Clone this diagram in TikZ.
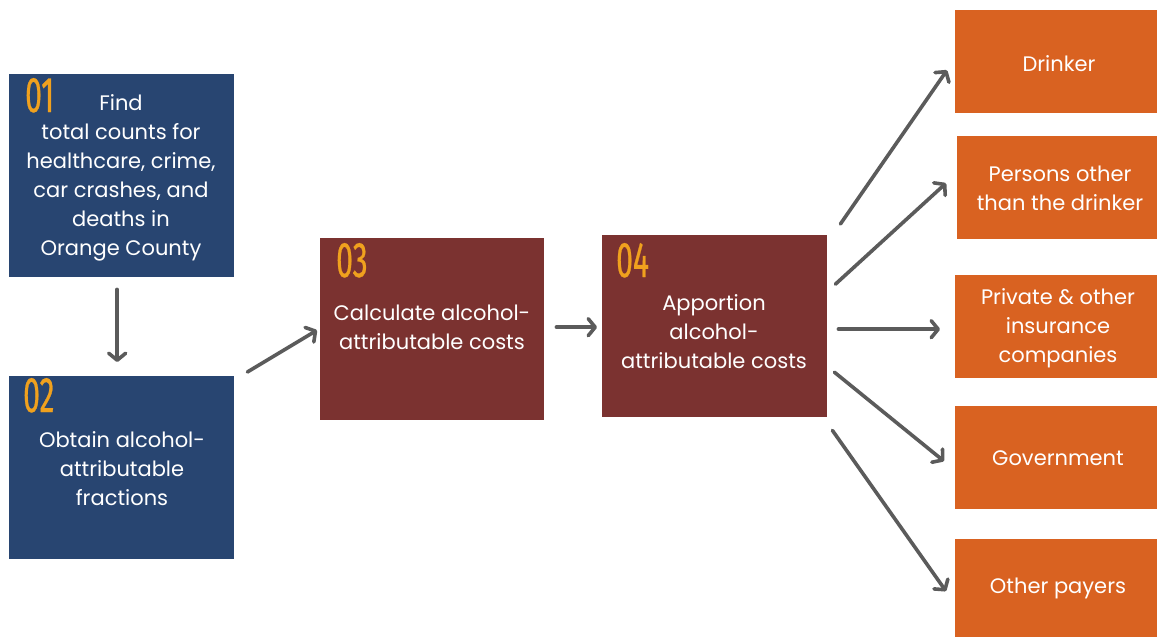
\documentclass[tikz,border=0pt]{standalone}
\usepackage{fontspec}
\setmainfont{Poppins}
\newfontfamily\numfont[FakeStretch=0.6,FakeBold=0.5]{Fira Sans}
\usetikzlibrary{arrows.meta}
\definecolor{boxblue}{HTML}{284571}
\definecolor{boxred}{HTML}{7B3230}
\definecolor{boxorange}{HTML}{D96221}
\definecolor{numgold}{HTML}{F0A11E}
\definecolor{arrowgray}{HTML}{5B5B5B}
\tikzset{
  stepbox/.style={rectangle, inner sep=0pt, anchor=north west, draw=none},
  numlabel/.style={anchor=base west, inner sep=0pt, text=numgold, font=\numfont\fontsize{50}{50}\selectfont},
  txt/.style={align=center, text=white, inner sep=0pt, font=\fontsize{21}{29}\selectfont},
  arr/.style={draw=arrowgray, line width=3.6pt, line cap=round, -{Straight Barb[length=7pt,width=17pt,round]}}
}
\begin{document}
\begin{tikzpicture}[x=1pt,y=-1pt]
\useasboundingbox (0,0) rectangle (1157,637);
% boxes
\node[stepbox, fill=boxblue, minimum width=225pt, minimum height=203pt] (n1) at (9,74) {};
\node[stepbox, fill=boxblue, minimum width=225pt, minimum height=183pt] (n2) at (9,376) {};
\node[stepbox, fill=boxred, minimum width=224pt, minimum height=182pt] (n3) at (320,238) {};
\node[stepbox, fill=boxred, minimum width=225pt, minimum height=182pt] (n4) at (602,235) {};
\node[stepbox, fill=boxorange, minimum width=202pt, minimum height=103pt] (d) at (955,10) {};
\node[stepbox, fill=boxorange, minimum width=200pt, minimum height=103pt] (p) at (957,136) {};
\node[stepbox, fill=boxorange, minimum width=202pt, minimum height=103pt] (pr) at (955,275) {};
\node[stepbox, fill=boxorange, minimum width=202pt, minimum height=103pt] (g) at (955,406) {};
\node[stepbox, fill=boxorange, minimum width=202pt, minimum height=98pt] (o) at (955,539) {};
% numbers
\node[numlabel] (l1) at (25,112) {01};
\node[numlabel] (l2) at (23,412) {02};
\node[numlabel] (l3) at (336,277) {03};
\node[numlabel] (l4) at (616,277) {04};
% texts
\node[txt] (t1) at (121,178) {Find\\ total counts for\\healthcare, crime,\\car crashes, and\\deaths in\\Orange County};
\node[txt] (t2) at (122,469) {Obtain alcohol-\\attributable\\fractions};
\node[txt] (t3) at (432,327.5) {Calculate alcohol-\\attributable costs};
\node[txt] (t4) at (714,332) {Apportion\\alcohol-\\attributable costs};
\node[txt] (td) at (1059,64) {Drinker};
\node[txt] (tp) at (1060,188.5) {Persons other\\than the drinker};
\node[txt] (tpr) at (1058,328) {Private \& other\\insurance\\companies};
\node[txt] (tg) at (1058,458) {Government};
\node[txt] (to) at (1058,588) {Other payers};
% arrows
\draw[arr] ([xshift=-4.5pt,yshift=-12pt]n1.south) -- ([xshift=-4.5pt,yshift=14pt]n2.north);
\draw[arr] ([xshift=13pt,yshift=4pt]n2.north east) -- ([xshift=-3pt,yshift=-1pt]n3.west);
\draw[arr] ([xshift=12pt,yshift=2pt]n3.east) -- ([xshift=-5pt,yshift=-1pt]n4.west);
\draw[arr] ([xshift=13pt,yshift=11pt]n4.north east) -- ([xshift=-8pt,yshift=-8.5pt]d.west);
\draw[arr] ([xshift=8pt,yshift=42pt]n4.east) -- ([xshift=-11pt,yshift=4.5pt]p.west);
\draw[arr] ([xshift=11pt,yshift=-3pt]n4.east) -- ([xshift=-15pt,yshift=-2.5pt]pr.west);
\draw[arr] ([xshift=7pt,yshift=-46pt]n4.east) -- ([xshift=-11pt,yshift=-3.5pt]g.west);
\draw[arr] ([xshift=5pt,yshift=-13pt]n4.south east) -- ([xshift=-9pt,yshift=-3pt]o.west);
\end{tikzpicture}
\end{document}
